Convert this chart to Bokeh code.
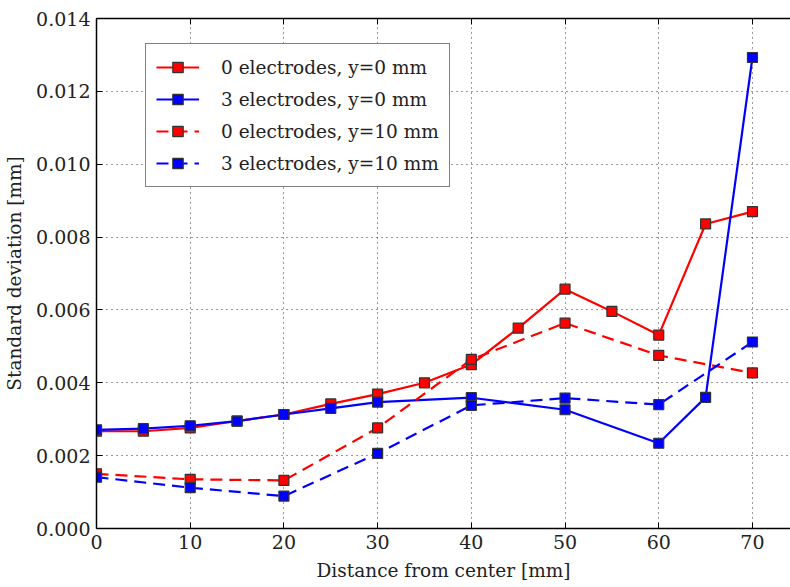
from bokeh.plotting import figure
from bokeh.models import (Legend, LegendItem, FixedTicker, PrintfTickFormatter,
                          LinearAxis, Range1d)
from bokeh.embed import file_html
from bokeh.resources import INLINE

# ---- data ----
x_red_solid = [0, 5, 10, 15, 20, 25, 30, 35, 40, 45, 50, 55, 60, 65, 70]
red_solid = [0.00267, 0.00267, 0.00276, 0.00295, 0.00313, 0.00342, 0.00369,
             0.00400, 0.00450, 0.00550, 0.00657, 0.00596, 0.00531, 0.00836, 0.00870]

x_blue_solid = [0, 5, 10, 15, 20, 25, 30, 40, 50, 60, 65, 70]
blue_solid = [0.00271, 0.00274, 0.00282, 0.00295, 0.00313, 0.00330, 0.00347,
              0.00359, 0.00326, 0.00234, 0.00360, 0.01293]

x_dashed = [0, 10, 20, 30, 40, 50, 60, 70]
red_dashed = [0.00150, 0.00135, 0.00132, 0.00276, 0.00464, 0.00564, 0.00475, 0.00427]
blue_dashed = [0.00141, 0.00112, 0.00089, 0.00206, 0.00338, 0.00358, 0.00340, 0.00512]

labels = ["0 electrodes, y=0 mm", "3 electrodes, y=0 mm",
          "0 electrodes, y=10 mm", "3 electrodes, y=10 mm"]

x_ticks = [0, 10, 20, 30, 40, 50, 60, 70]
y_ticks = [0.000, 0.002, 0.004, 0.006, 0.008, 0.010, 0.012, 0.014]

FONT = "DejaVu Serif"
FS_TICK = "19px"
FS_TEXT = "18.5px"

p = figure(width=790, height=587, output_backend="svg", toolbar_location=None,
           x_range=Range1d(0, 74.06), y_range=Range1d(0, 0.014),
           x_axis_label="Distance from center [mm]",
           y_axis_label="Standard deviation [mm]",
           min_border_left=96, min_border_right=0, min_border_top=18,
           min_border_bottom=59)
p.outline_line_color = None
p.background_fill_color = "white"
p.border_fill_color = "white"

for ax in (p.xaxis[0], p.yaxis[0]):
    ax.major_tick_in = 6
    ax.major_tick_out = 0
    ax.minor_tick_line_color = None
    ax.axis_line_color = "black"
    ax.axis_line_width = 1.5
    ax.major_label_text_font = FONT
    ax.major_label_text_font_size = FS_TICK
    ax.major_label_text_color = "#222222"
    ax.axis_label_text_font = FONT
    ax.axis_label_text_font_size = FS_TEXT
    ax.axis_label_text_font_style = "normal"
    ax.axis_label_text_color = "#222222"
    ax.major_label_standoff = 6
    ax.axis_label_standoff = 8

p.xaxis[0].ticker = FixedTicker(ticks=x_ticks)
p.yaxis[0].ticker = FixedTicker(ticks=y_ticks)
p.yaxis[0].formatter = PrintfTickFormatter(format="%.3f")

top = LinearAxis(ticker=FixedTicker(ticks=x_ticks), major_label_text_color=None,
                 major_label_text_font_size="10px",
                 major_tick_in=6, major_tick_out=0, minor_tick_line_color=None,
                 major_label_standoff=0, axis_line_width=1.5)
p.add_layout(top, "above")

p.xgrid.ticker = FixedTicker(ticks=x_ticks)
p.ygrid.ticker = FixedTicker(ticks=y_ticks)
for g in (p.xgrid[0], p.ygrid[0]):
    g.grid_line_color = "black"
    g.grid_line_dash = "1 4"
    g.grid_line_width = 1
    g.grid_line_alpha = 0.8

RED = "#ff0000"
BLUE = "#0000ff"
EDGE = "#333333"
LW = 2.2
MS = 10

series = [
    (x_red_solid, red_solid, RED, "solid"),
    (x_blue_solid, blue_solid, BLUE, "solid"),
    (x_dashed, red_dashed, RED, "12 7"),
    (x_dashed, blue_dashed, BLUE, "12 7"),
]
items = []
for (xs, ys, col, dash), lab in zip(series, labels):
    l = p.line(xs, ys, line_color=col, line_width=LW, line_dash=dash)
    s = p.scatter(xs, ys, marker="square", size=MS, fill_color=col,
                  line_color=EDGE, line_width=1.2)
    items.append(LegendItem(label=lab, renderers=[l, s]))

legend = Legend(items=items, location=(49, 341))
legend.label_text_font = FONT
legend.label_text_font_size = FS_TEXT
legend.label_text_color = "#222222"
legend.glyph_width = 43
legend.glyph_height = 26
legend.label_height = 26
legend.spacing = 6
legend.padding = 10
legend.margin = 0
legend.label_standoff = 22
legend.border_line_color = "black"
legend.border_line_width = 1.5
legend.background_fill_color = "white"
legend.background_fill_alpha = 1.0
p.add_layout(legend, "center")

open("out.html", "w").write(file_html(p, INLINE))
